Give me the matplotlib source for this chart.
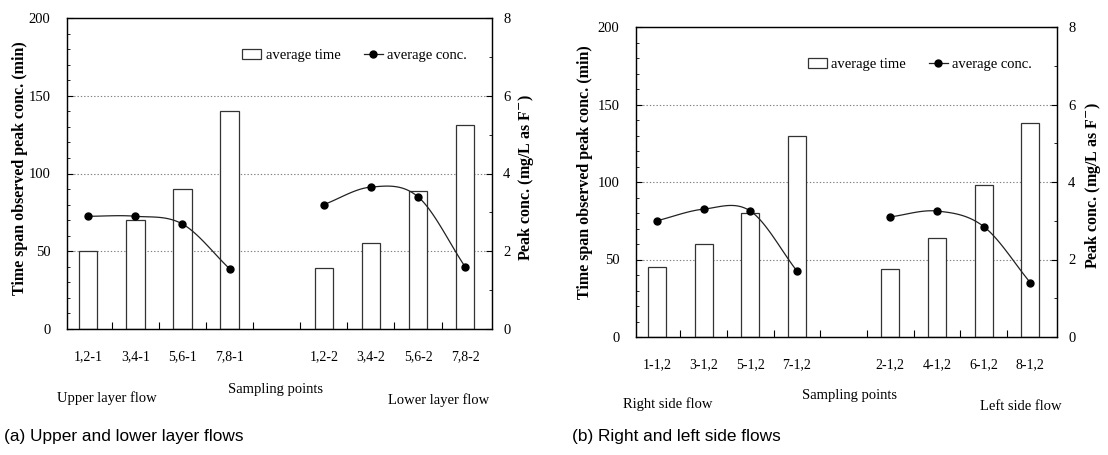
import numpy as np
import matplotlib
matplotlib.use("Agg")
import matplotlib.pyplot as plt
from matplotlib.patches import Patch
from matplotlib.lines import Line2D
from matplotlib.ticker import MultipleLocator, FixedLocator

# ---------------- data ----------------
labels_a = ["1,2-1", "3,4-1", "5,6-1", "7,8-1", "1,2-2", "3,4-2", "5,6-2", "7,8-2"]
time_a = [50, 70, 90, 140, 39, 55, 89, 131]
conc_a = [2.9, 2.9, 2.7, 1.55, 3.2, 3.65, 3.4, 1.6]

labels_b = ["1-1,2", "3-1,2", "5-1,2", "7-1,2", "2-1,2", "4-1,2", "6-1,2", "8-1,2"]
time_b = [45, 60, 80, 130, 44, 64, 98, 138]
conc_b = [3.0, 3.3, 3.25, 1.7, 3.1, 3.25, 2.85, 1.4]

positions = [0, 1, 2, 3, 5, 6, 7, 8]
group_names_a = ("Upper layer flow", "Lower layer flow")
group_names_b = ("Right side flow", "Left side flow")

W, H = 1108, 455
SERIF = "Liberation Serif"
SANS = "Liberation Sans"


def catmull(xs, ys, n=30):
    xs = np.asarray(xs, float); ys = np.asarray(ys, float)
    P = np.column_stack([xs, ys])
    P = np.vstack([2 * P[0] - P[1], P, 2 * P[-1] - P[-2]])
    out = []
    for i in range(1, len(P) - 2):
        p0, p1, p2, p3 = P[i - 1], P[i], P[i + 1], P[i + 2]
        t = np.linspace(0, 1, n)[:, None]
        seg = 0.5 * ((2 * p1) + (-p0 + p2) * t + (2 * p0 - 5 * p1 + 4 * p2 - p3) * t ** 2
                     + (-p0 + 3 * p1 - 3 * p2 + p3) * t ** 3)
        out.append(seg)
    pts = np.vstack(out)
    return pts[:, 0], pts[:, 1]


def fx(px):
    return px / W


def fy(py):
    return 1 - py / H


def panel(fig, rect, labels, times, concs, groups, lab_y, grp_y, samp_y, samp_x,
          grp_x, leftlab, rightlab, legend_anchor):
    l, t, r, b = rect
    ax = fig.add_axes([fx(l), fy(b), fx(r) - fx(l), (b - t) / H])
    ax.set_xlim(-0.45, 8.57)
    ax.set_ylim(0, 200)
    for y in (50, 100, 150):
        ax.axhline(y, color="#808080", lw=0.8, ls=(0, (1.2, 1.8)), zorder=1)
    ax.bar(positions, times, width=0.39, color="white", edgecolor="#333333",
           linewidth=0.9, zorder=2)
    ax.set_yticks([0, 50, 100, 150, 200])
    ax.yaxis.set_minor_locator(MultipleLocator(10))
    ax.set_xticks(positions)
    ax.set_xticklabels([])
    ax.xaxis.set_minor_locator(FixedLocator([0.5, 1.5, 2.5, 3.5, 4.5, 5.5, 6.5, 7.5]))
    ax.tick_params(axis="x", which="major", length=0)
    ax.tick_params(axis="x", which="minor", direction="in", length=5, width=0.8, top=False)
    ax.tick_params(axis="y", which="major", direction="in", length=4, width=0.8,
                   labelsize=10.5, pad=12)
    ax.tick_params(axis="y", which="minor", direction="in", length=2.5, width=0.6)
    for lab in ax.get_yticklabels():
        lab.set_fontfamily(SERIF)
    for s in ax.spines.values():
        s.set_linewidth(1.0)
        s.set_color("#222222")

    ax2 = ax.twinx()
    ax2.set_ylim(0, 8)
    ax2.set_yticks([0, 2, 4, 6, 8])
    ax2.yaxis.set_minor_locator(MultipleLocator(1))
    ax2.tick_params(axis="y", which="major", direction="in", length=4, width=0.8,
                    labelsize=10.5, pad=8)
    ax2.tick_params(axis="y", which="minor", direction="in", length=2.5, width=0.6)
    for lab in ax2.get_yticklabels():
        lab.set_fontfamily(SERIF)
    for g in (slice(0, 4), slice(4, 8)):
        xs = positions[g]; ys = concs[g]
        cx, cy = catmull(xs, ys)
        ax2.plot(cx, cy, color="#222222", lw=0.9, zorder=3)
        ax2.plot(xs, ys, "o", color="black", ms=5, zorder=4)

    # x tick labels
    for p, lab in zip(positions, labels):
        xd = ax.transData.transform((p, 0))[0]
        fig.text(xd / W, fy(lab_y), lab, ha="center", va="center",
                 fontsize=10, family=SERIF)
    fig.text(fx(grp_x[0]), fy(grp_y[0]), groups[0], ha="center", va="center",
             fontsize=10.5, family=SERIF)
    fig.text(fx(grp_x[1]), fy(grp_y[1]), groups[1], ha="center", va="center",
             fontsize=10.5, family=SERIF)
    fig.text(fx(samp_x), fy(samp_y), "Sampling points", ha="center", va="center",
             fontsize=10.5, family=SERIF)
    fig.text(fx(leftlab[0]), fy(leftlab[1]), "Time span observed peak conc. (min)",
             rotation=90, ha="center", va="center", fontsize=11.5, family=SERIF,
             fontweight="bold")
    fig.text(fx(rightlab[0]), fy(rightlab[1]), r"Peak conc. (mg/L as F$^{-}$)",
             rotation=90, ha="center", va="center", fontsize=11.5, family=SERIF,
             fontweight="bold")

    handles = [Patch(facecolor="white", edgecolor="#333333", linewidth=0.9),
               Line2D([0], [0], color="#222222", lw=0.9, marker="o", ms=5,
                      markerfacecolor="black", markeredgecolor="black")]
    ax2.legend(handles, ["average time", "average conc."], ncol=2, frameon=False,
               loc="center right", bbox_to_anchor=legend_anchor,
               prop={"family": SERIF, "size": 10.5}, handlelength=1.3,
               handletextpad=0.3, columnspacing=1.6, borderaxespad=0)
    return ax


fig = plt.figure(figsize=(W / 100, H / 100), dpi=100)

panel(fig, (67, 18, 492, 329), labels_a, time_a, conc_a, group_names_a,
      lab_y=357, grp_y=(398, 400), samp_y=390, samp_x=276, grp_x=(107, 439),
      leftlab=(20, 168), rightlab=(526, 177), legend_anchor=(0.955, 0.88))

panel(fig, (636, 27, 1057, 337), labels_b, time_b, conc_b, group_names_b,
      lab_y=365, grp_y=(404, 407), samp_y=396, samp_x=850, grp_x=(668, 1021),
      leftlab=(585, 172), rightlab=(1093, 185), legend_anchor=(0.955, 0.88))

fig.text(fx(4), fy(436), "(a) Upper and lower layer flows", ha="left", va="center",
         fontsize=12.4, family=SANS)
fig.text(fx(572), fy(437), "(b) Right and left side flows", ha="left", va="center",
         fontsize=12.4, family=SANS)

fig.savefig("out.png", dpi=100)
